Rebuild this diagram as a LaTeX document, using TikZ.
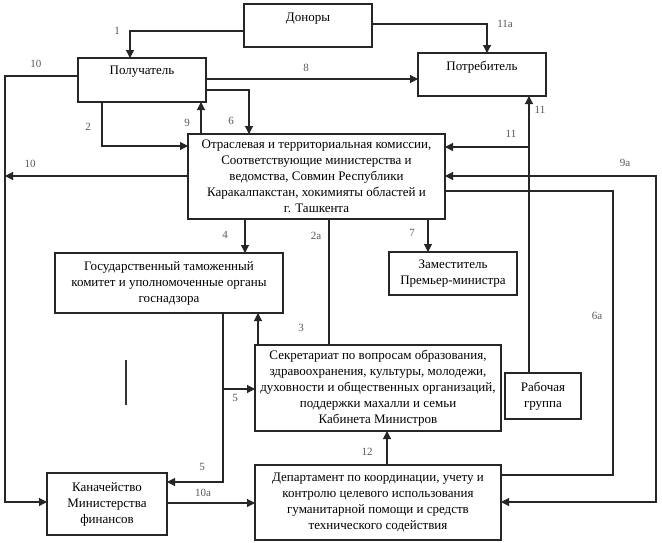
\documentclass[tikz,border=0pt]{standalone}
\usepackage{fontspec}
\setmainfont{Liberation Serif}
\usetikzlibrary{arrows.meta}
\begin{document}
\begin{tikzpicture}[x=1pt,y=-1pt,
  box/.style={draw=black!85, line width=1.3pt, inner sep=0pt, outer sep=0pt, fill=white, align=center,
    font=\fontsize{13}{16}\selectfont},
  txt/.style={inner sep=0pt, align=center, font=\fontsize{13}{16}\selectfont},
  con/.style={draw=black!85, line width=1.1pt},
  arr/.style={con, -{Triangle[length=8pt,width=8pt]}},
  arrb/.style={con, {Triangle[length=8pt,width=8pt]}-{Triangle[length=8pt,width=8pt]}},
  lab/.style={inner sep=0pt, text=black!65, font=\fontsize{11}{12}\selectfont}]
\useasboundingbox (0,0) rectangle (662,542);
\fill[white] (0,0) rectangle (662,542);

% boxes
\node[box, minimum width=128pt, minimum height=43pt] (don) at (308,25.5) {};
\node[txt] (dont) at (308,19) {Доноры};
\node[box, minimum width=128pt, minimum height=44pt] (pol) at (142,80) {};
\node[txt] (polt) at (142,72) {Получатель};
\node[box, minimum width=128pt, minimum height=43pt] (potr) at (482,74.5) {};
\node[txt] (potrt) at (482,67) {Потребитель};
\node[box, minimum width=257pt, minimum height=85pt] (big) at (316.5,176.5)
  {Отраслевая и территориальная комиссии,\\Соответствующие министерства и\\ведомства, Совмин Республики\\Каракалпакстан, хокимияты областей и\\г. Ташкента};
\node[box, minimum width=228pt, minimum height=60pt] (gos) at (169,283)
  {Государственный таможенный\\комитет и уполномоченные органы\\госнадзора};
\node[box, minimum width=128pt, minimum height=43pt] (zam) at (453,273.5)
  {Заместитель\\Премьер-министра};
\node[box, minimum width=246pt, minimum height=86pt] (sek) at (378,388)
  {Секретариат по вопросам образования,\\здравоохранения, культуры, молодежи,\\духовности и общественных организаций,\\поддержки махалли и семьи\hspace{10pt}\\Кабинета Министров\hspace{24pt}};
\node[box, minimum width=76pt, minimum height=46pt] (rab) at (543,396)
  {Рабочая\\группа};
\node[box, minimum width=120pt, minimum height=62pt] (kaz) at (107,504)
  {Каначейство\\Министерства\\финансов};
\node[box, minimum width=246pt, minimum height=75pt] (dep) at (378,502.5)
  {Департамент по координации, учету и\\контролю целевого использования\\гуманитарной помощи и средств\\технического содействия\hspace{18pt}};

% connectors
\coordinate (c10) at (5,502);
\coordinate (c9a) at (656,176);
\coordinate (c6a) at (613,475);
\coordinate (j11) at (529,147);
\coordinate (j5) at (223,389);

\draw[arr] (don.west |- 0,31) -| (pol.north -| 130,0);
\draw[arr] (don.east |- 0,24) -| (potr.north -| 487,0);
\draw[arr] (pol.east |- 0,79) -- (potr.west |- 0,79);
\draw[arr] (pol.west |- 0,76) -| (c10) -- (kaz.west |- c10);
\draw[arr] (pol.south -| 102,0) |- (big.west |- 0,146);
\draw[arr] (big.north -| 201,0) -- (pol.south -| 201,0);
\draw[arr] (pol.east |- 0,90) -| (big.north -| 249,0);
\draw[arr] (big.west |- 0,176) -- (c10 |- 0,176);
\draw[arr] (big.south -| 245,0) -- (gos.north -| 245,0);
\draw[con] (big.south -| 329,0) -- (sek.north -| 329,0);
\draw[arr] (big.south -| 428,0) -- (zam.north -| 428,0);
\draw[arr] (rab.north -| j11) -- (potr.south -| j11);
\draw[arr] (j11) -- (big.east |- j11);
\draw[arrb] (dep.east |- 0,502) -| (c9a) -- (big.east |- c9a);
\draw[con] (big.east |- 0,191) -| (c6a) -- (dep.east |- c6a);
\draw[arr] (sek.north -| 258,0) -- (gos.south -| 258,0);
\draw[arr] (gos.south -| j5) |- (kaz.east |- 0,482);
\draw[arr] (j5) -- (sek.west |- j5);
\draw[arr] (kaz.east |- 0,503) -- (dep.west |- 0,503);
\draw[arr] (dep.north -| 387,0) -- (sek.south -| 387,0);
\draw[line width=2pt, black!80] (126,360) -- (126,405);

% labels
\node[lab] (l1) at (117,31) {1};
\node[lab] (l11a) at (505,24) {11а};
\node[lab] (l8) at (306,68) {8};
\node[lab] (l10a) at (36,64) {10};
\node[lab] (l2) at (88,127) {2};
\node[lab] (l9) at (187,123) {9};
\node[lab] (l6) at (231,121) {6};
\node[lab] (l10b) at (30,164) {10};
\node[lab] (l11b) at (540,110) {11};
\node[lab] (l11c) at (511,134) {11};
\node[lab] (l9a) at (625,163) {9а};
\node[lab] (l4) at (225,235) {4};
\node[lab] (l2a) at (316,236) {2а};
\node[lab] (l7) at (412,233) {7};
\node[lab] (l3) at (301,328) {3};
\node[lab] (l6a) at (597,316) {6а};
\node[lab] (l5a) at (235,398) {5};
\node[lab] (l5b) at (202,467) {5};
\node[lab] (l10c) at (203,493) {10а};
\node[lab] (l12) at (367,452) {12};
\end{tikzpicture}
\end{document}
